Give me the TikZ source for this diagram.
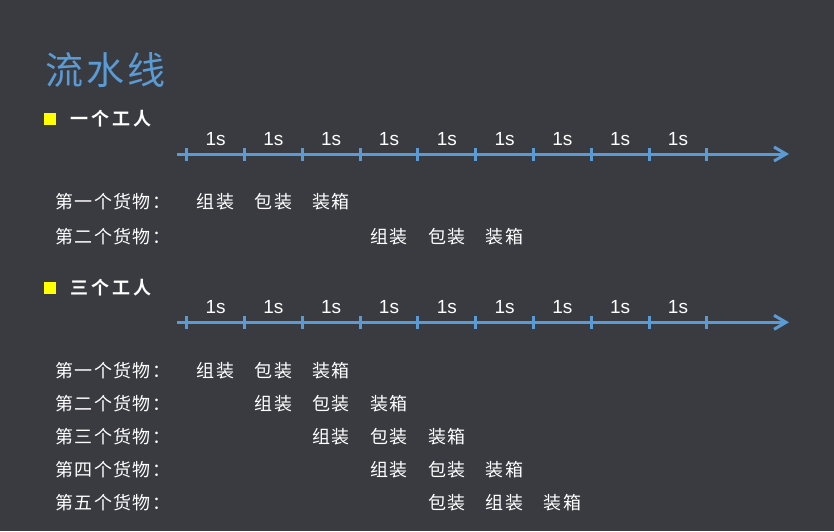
\documentclass[tikz,border=0pt]{standalone}
\usepackage{fontspec}
\usetikzlibrary{arrows.meta}
\newfontfamily\cjk{Noto Sans CJK SC}[BoldFont={* Bold}]
\newfontfamily\numfont{Liberation Sans}
\definecolor{bgc}{RGB}{58,59,64}
\definecolor{accent}{RGB}{91,155,213}
\definecolor{bulletc}{RGB}{255,255,0}
\tikzset{
  axis/.style={draw=accent, line width=3pt, -{Straight Barb[length=12pt,width=14pt,line width=3pt]}},
  tick/.style={draw=accent, line width=3pt},
  seclabel/.style={text=white, font=\numfont\fontsize{19}{20}\selectfont, inner sep=0pt},
  titletext/.style={text=accent, font=\cjk\fontsize{38}{40}\selectfont\addfontfeature{LetterSpace=8}, inner sep=0pt, anchor=west},
  headtext/.style={text=white, font=\cjk\bfseries\fontsize{18}{20}\selectfont\addfontfeature{LetterSpace=17}, inner sep=0pt, anchor=west},
  bulletbox/.style={fill=bulletc, minimum size=12pt, inner sep=0pt},
  rowlabel/.style={text=white, font=\cjk\fontsize{18}{20}\selectfont\addfontfeature{LetterSpace=8}, inner sep=0pt, anchor=west},
  word/.style={text=white, font=\cjk\fontsize{18}{20}\selectfont\addfontfeature{LetterSpace=8}, inner sep=0pt}
}
\begin{document}
\begin{tikzpicture}[x=1pt,y=-1pt]
\fill[bgc] (0,0) rectangle (834,531);
\useasboundingbox (0,0) rectangle (834,531);
% title
\node[titletext] (title) at (45,70) {流水线};
% section 1
\node[bulletbox] (b1) at (50,119) {};
\node[headtext] (h1) at (70,119) {一个工人};
\coordinate (a1s) at (177,154);
\coordinate (a1e) at (789,154);
\draw[axis] (a1s) -- (a1e);
\foreach \i in {0,...,9} {
  \coordinate (t1\i) at ({186.7+57.8*\i},154);
  \draw[tick] ([yshift=-6.5pt]t1\i) -- ([yshift=6.5pt]t1\i);
}
\foreach \i in {0,...,8} {
  \node[seclabel] (s1\i) at ({215.6+57.8*\i},139.5) {1s};
}
\node[rowlabel] (r11) at (55,202) {第一个货物：};
\node[rowlabel] (r12) at (55,237) {第二个货物：};
\node[word] (w110) at ({215.6+57.8*0},202) {组装};
\node[word] (w111) at ({215.6+57.8*1},202) {包装};
\node[word] (w112) at ({215.6+57.8*2},202) {装箱};
\node[word] (w120) at ({215.6+57.8*3},237) {组装};
\node[word] (w121) at ({215.6+57.8*4},237) {包装};
\node[word] (w122) at ({215.6+57.8*5},237) {装箱};
% section 2
\node[bulletbox] (b2) at (50,287.5) {};
\node[headtext] (h2) at (70,287.5) {三个工人};
\coordinate (a2s) at (177,322.3);
\coordinate (a2e) at (789,322.3);
\draw[axis] (a2s) -- (a2e);
\foreach \i in {0,...,9} {
  \coordinate (t2\i) at ({186.7+57.8*\i},322.3);
  \draw[tick] ([yshift=-6.5pt]t2\i) -- ([yshift=6.5pt]t2\i);
}
\foreach \i in {0,...,8} {
  \node[seclabel] (s2\i) at ({215.6+57.8*\i},307) {1s};
}
\node[rowlabel] (r21) at (55,370.5) {第一个货物：};
\node[rowlabel] (r22) at (55,404) {第二个货物：};
\node[rowlabel] (r23) at (55,437) {第三个货物：};
\node[rowlabel] (r24) at (55,470) {第四个货物：};
\node[rowlabel] (r25) at (55,503) {第五个货物：};
\node[word] (w210) at ({215.6+57.8*0},370.5) {组装};
\node[word] (w211) at ({215.6+57.8*1},370.5) {包装};
\node[word] (w212) at ({215.6+57.8*2},370.5) {装箱};
\node[word] (w220) at ({215.6+57.8*1},404) {组装};
\node[word] (w221) at ({215.6+57.8*2},404) {包装};
\node[word] (w222) at ({215.6+57.8*3},404) {装箱};
\node[word] (w230) at ({215.6+57.8*2},437) {组装};
\node[word] (w231) at ({215.6+57.8*3},437) {包装};
\node[word] (w232) at ({215.6+57.8*4},437) {装箱};
\node[word] (w240) at ({215.6+57.8*3},470) {组装};
\node[word] (w241) at ({215.6+57.8*4},470) {包装};
\node[word] (w242) at ({215.6+57.8*5},470) {装箱};
\node[word] (w250) at ({215.6+57.8*4},503) {包装};
\node[word] (w251) at ({215.6+57.8*5},503) {组装};
\node[word] (w252) at ({215.6+57.8*6},503) {装箱};
\end{tikzpicture}
\end{document}
